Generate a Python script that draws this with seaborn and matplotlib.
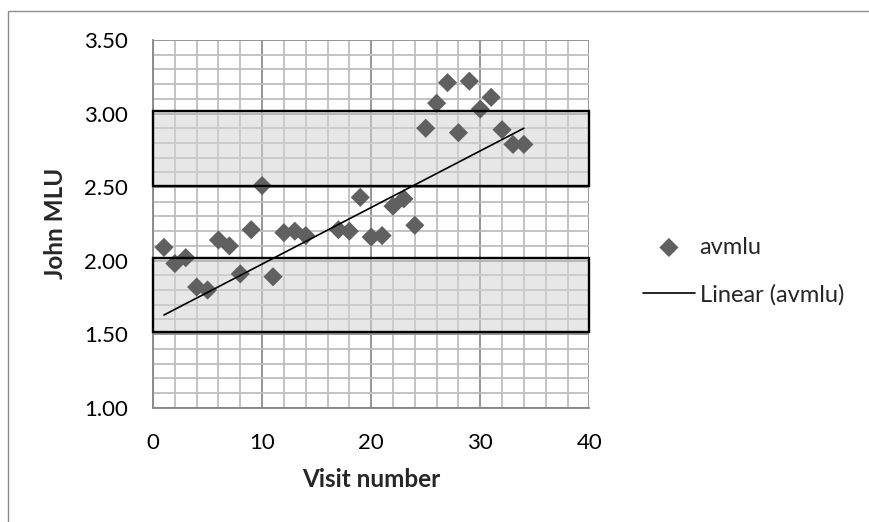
import numpy as np
import pandas as pd
import matplotlib
matplotlib.use("Agg")
import matplotlib.pyplot as plt
from matplotlib.patches import Rectangle
from matplotlib.ticker import MultipleLocator
import seaborn as sns

# ---- data ----
visit = [1, 2, 3, 4, 5, 6, 7, 8, 9, 10, 11, 12, 13, 14, 17, 18, 19, 20, 21,
         22, 23, 24, 25, 26, 27, 28, 29, 30, 31, 32, 33, 34]
avmlu = [2.09, 1.98, 2.02, 1.82, 1.80, 2.14, 2.10, 1.91, 2.21, 2.51, 1.89,
         2.19, 2.20, 2.17, 2.21, 2.20, 2.43, 2.16, 2.17, 2.37, 2.42, 2.24,
         2.90, 3.07, 3.21, 2.87, 3.22, 3.03, 3.11, 2.89, 2.79, 2.79]
trend_x = [1, 34]
trend_y = [1.63, 2.90]
bands = [(1.515, 2.015), (2.51, 3.015)]
series_name = "avmlu"
trend_name = "Linear (avmlu)"

df = pd.DataFrame({"visit": visit, "avmlu": avmlu})
tdf = pd.DataFrame({"visit": trend_x, "avmlu": trend_y})

sns.set_theme(style="white")
plt.rcParams["font.family"] = ["Lato", "DejaVu Sans"]

fig = plt.figure(figsize=(8.7, 5.22), dpi=100)
ax = fig.add_axes([0.1759, 0.219, 0.6774 - 0.1759, 0.9234 - 0.219])

ax.set_xlim(0, 40)
ax.set_ylim(1.0, 3.5)
ax.xaxis.set_major_locator(MultipleLocator(10))
ax.xaxis.set_minor_locator(MultipleLocator(2))
ax.yaxis.set_major_locator(MultipleLocator(0.5))
ax.yaxis.set_minor_locator(MultipleLocator(0.1))
ax.grid(which="minor", color="#bebebe", lw=1.3, zorder=0)
ax.grid(which="major", color="#8e8e8e", lw=1.3, zorder=0)
ax.set_axisbelow(True)

for lo, hi in bands:
    ax.add_patch(Rectangle((0, lo), 40, hi - lo, facecolor="#d4d4d4", alpha=0.55,
                           edgecolor="none", zorder=1, clip_on=False))
    ax.add_patch(Rectangle((0, lo), 40, hi - lo, facecolor="none",
                           edgecolor="black", lw=1.7, zorder=4, clip_on=False))

sns.scatterplot(data=df, x="visit", y="avmlu", ax=ax, marker="D", s=95,
                color="#606060", edgecolor="none", linewidth=0, zorder=3,
                label=series_name)
sns.lineplot(data=tdf, x="visit", y="avmlu", ax=ax, color="black", lw=1.2,
             zorder=5, label=trend_name)

for s in ["top", "right"]:
    ax.spines[s].set_visible(False)
for s in ["left", "bottom"]:
    ax.spines[s].set_color("#868686")
    ax.spines[s].set_linewidth(1.3)

ax.set_yticks([1.0, 1.5, 2.0, 2.5, 3.0, 3.5])
ax.set_yticklabels([f"{v:.2f}" for v in [1.0, 1.5, 2.0, 2.5, 3.0, 3.5]])
ax.tick_params(axis="both", which="major", direction="out", length=5,
               width=1.3, color="#868686", labelsize=16, labelcolor="black")
ax.tick_params(axis="y", pad=13)
ax.tick_params(axis="x", pad=13)
ax.tick_params(which="minor", length=0)

ax.set_xlabel("Visit number", fontsize=17.5, fontweight="bold", labelpad=11)
ax.set_ylabel("John MLU", fontsize=17.5, fontweight="bold")
ax.yaxis.set_label_coords(-0.198, 0.5)

leg = ax.legend(loc="center left", bbox_to_anchor=(0.739, 0.481),
                bbox_transform=fig.transFigure, frameon=False, fontsize=17,
                handlelength=2.2, handletextpad=0.2, labelspacing=1.1,
                borderpad=0, borderaxespad=0)

fig.patches.append(Rectangle((8 / 870, -0.05), 1.2, 1 - 11 / 522 + 0.05,
                             transform=fig.transFigure, facecolor="none",
                             edgecolor="#8c8c8c", lw=1.0))

fig.savefig("out.png", dpi=100)
